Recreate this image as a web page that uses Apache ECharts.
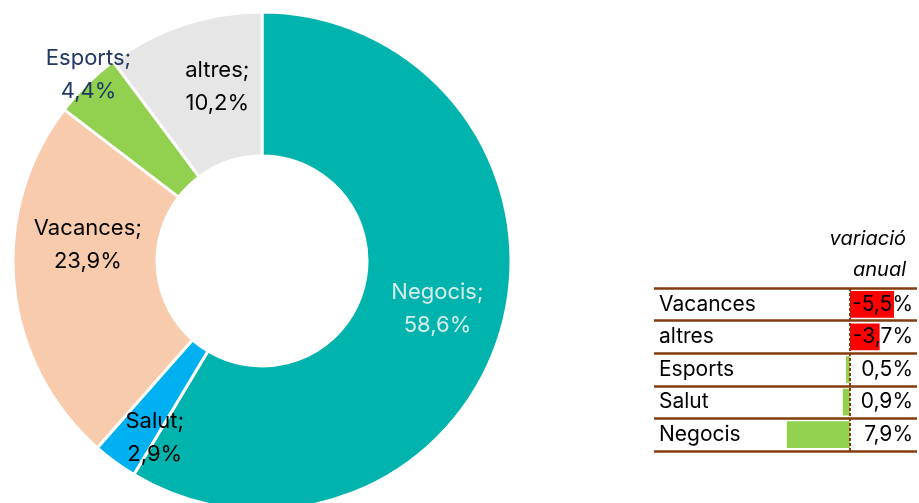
<!DOCTYPE html>
<html>
<head>
<meta charset="utf-8">
<script src="https://cdn.jsdelivr.net/npm/echarts@6/dist/echarts.min.js"></script>
<style>html,body{margin:0;padding:0;background:#fff}#c{width:919px;height:503px}</style>
</head>
<body>
<div id="c"></div>
<script>
const categories = ['Negocis', 'Salut', 'Vacances', 'Esports', 'altres'];
const shares = [58.6, 2.9, 23.9, 4.4, 10.2];
const varCategories = ['Vacances', 'altres', 'Esports', 'Salut', 'Negocis'];
const variation = [-5.5, -3.7, 0.5, 0.9, 7.9];
const headerLines = ['variació', 'anual'];

const sliceColors = ['#00B3AD', '#00B0F0', '#F8CBAD', '#92D050', '#E7E6E6'];
const labelColors = ['#D6ECEA', '#000000', '#000000', '#1F3864', '#000000'];
const labelShift = [[2, 0], [-1, 32], [5, -34], [-47, -58], [12, -3]];
const FONT = 'Inter, "Noto Sans", sans-serif';

function fmt(v, d) { return v.toFixed(d).replace('.', ','); }

const chart = echarts.init(document.getElementById('c'), null, {renderer: 'canvas'});
chart.setOption({
  animation: false,
  backgroundColor: '#ffffff',
  graphic: [
    {type: 'text', right: 13, top: 229, style: {text: headerLines[0], font: 'italic 20px ' + FONT, fill: '#000', textAlign: 'right'}},
    {type: 'text', right: 13, top: 260, style: {text: headerLines[1], font: 'italic 20px ' + FONT, fill: '#000', textAlign: 'right'}}
  ],
  grid: {left: 654, right: 2, top: 288, bottom: 52, containLabel: false},
  xAxis: {type: 'value', inverse: true, min: -8.375, max: 24.5, show: false},
  yAxis: [
    {type: 'category', data: varCategories, inverse: true, position: 'left', z: 5,
     axisLine: {show: false}, axisTick: {show: false},
     axisLabel: {inside: true, margin: 5, color: '#000', fontSize: 21, fontFamily: FONT},
     splitLine: {show: true, interval: 0, lineStyle: {color: '#843C0C', width: 2.5}}},
    {type: 'category', data: variation.map(v => fmt(v, 1) + '%'), inverse: true, position: 'right', z: 5,
     axisLine: {show: false}, axisTick: {show: false},
     axisLabel: {inside: true, margin: 4, color: '#000', fontSize: 21, fontFamily: FONT},
     splitLine: {show: false}}
  ],
  series: [
    {type: 'pie', center: [262, 261], radius: [105, 249], startAngle: 90, clockwise: true,
     silent: true,
     itemStyle: {borderColor: '#ffffff', borderWidth: 3},
     label: {position: 'inside', fontSize: 22, lineHeight: 33, fontFamily: FONT,
       formatter: p => p.name + ';\n' + fmt(p.value, 1) + '%'},
     labelLine: {show: false},
     labelLayout: p => ({dx: labelShift[p.dataIndex][0], dy: labelShift[p.dataIndex][1]}),
     data: categories.map((c, i) => ({name: c, value: shares[i],
       itemStyle: {color: sliceColors[i]}, label: {color: labelColors[i]}}))},
    {type: 'bar', yAxisIndex: 0, barCategoryGap: '18%', silent: true, z: 1,
     data: variation.map(v => ({value: v, itemStyle: {color: v < 0 ? '#FF0000' : '#92D050'}})),
     markLine: {silent: true, symbol: 'none', label: {show: false},
       lineStyle: {color: '#843C0C', type: [3, 2], width: 2},
       data: [{xAxis: 0}]}}
  ]
});
</script>
</body>
</html>
